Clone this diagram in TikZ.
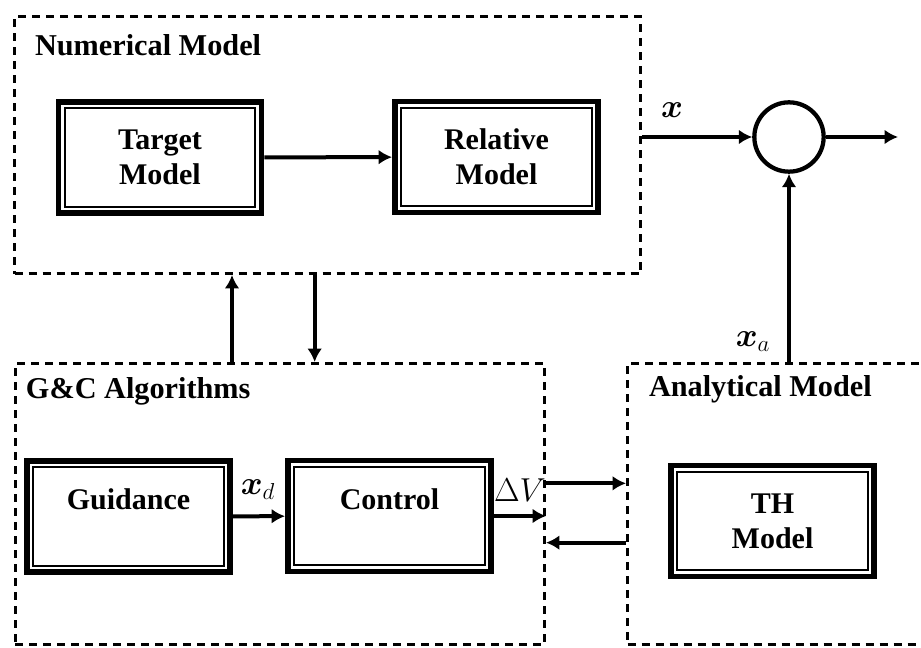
\documentclass[tikz,border=0pt]{standalone}
\usepackage{amsmath,amssymb}
\usepackage{fontspec}
\setmainfont{Liberation Serif}
\usetikzlibrary{arrows.meta, positioning, calc}

\begin{document}
\begin{tikzpicture}[x=0.75pt, y=-0.75pt, line width=3pt,
  blk/.style={rectangle, draw, line width=4.2pt, minimum width=152.5pt, minimum height=83.5pt, align=center, font=\bfseries\fontsize{22.5}{26}\selectfont,
    path picture={\draw[line width=1.3pt] ([shift={(4.8pt,4.8pt)}]path picture bounding box.south west) rectangle ([shift={(-4.8pt,-4.8pt)}]path picture bounding box.north east);}},
  grp/.style={rectangle, draw, line width=2.2pt, dash pattern=on 6pt off 4.5pt},
  ttl/.style={anchor=west, inner sep=0pt, font=\bfseries\fontsize{22.7}{26}\selectfont},
  lbl/.style={inner sep=0pt, font=\fontsize{23}{26}\selectfont},
  sum/.style={circle, draw, line width=3.2pt, minimum size=52pt},
  >={Latex[length=10pt,width=11pt]}]
\useasboundingbox (0,0) rectangle (921,648);

% dashed groups
\node[grp, minimum width=469.5pt, minimum height=192.8pt] (num) at (327.5,145) {};
\node[grp, minimum width=396.8pt, minimum height=210.8pt] (gc)  at (280,504) {};
\node[grp, minimum width=229.5pt, minimum height=210.8pt] (am)  at (780.5,504) {};
\node[ttl] (t1) at (33,45)  {Numerical Model};
\node[ttl] (t2) at (24,391) {G\&C Algorithms};
\node[ttl] (t3) at (647,389) {Analytical Model};

% blocks
\node[blk] (tgt) at (160,157.5) {Target\\Model};
\node[blk] (rel) at (496.5,157) {Relative\\Model};
\node[blk] (gd)  at (128.5,516.5) {Guidance\\~};
\node[blk] (ctl) at (389.5,516) {Control\\~};
\node[blk] (th)  at (772.5,521) {TH\\Model};
\node[sum] (s) at (789,137) {};
\coordinate (out) at (898,137);

% signals
\node[lbl] (lx)  at (672,110) {$\boldsymbol{x}$};
\node[lbl] (lxa) at (753,342) {$\boldsymbol{x}_a$};
\node[lbl] (lxd) at (258,490) {$\boldsymbol{x}_d$};
\node[lbl] (ldv) at (520,490) {$\Delta V$};

\draw[->] (tgt) -- (rel);
\draw[->] (s.west -| num.east) -- (s.west);
\draw[->] (s.east) -- (out);
\draw[->] (s.south |- am.north) -- (s.south);
\draw[->] (gd) -- (ctl);
\draw[->] (ctl.east) -- (ctl.east -| gc.east);
\draw[->] ([xshift=-36pt]gc.north) -- ([xshift=-36pt]gc.north |- num.south);
\draw[->] ([xshift=26pt]gc.north |- num.south) -- ([xshift=26pt]gc.north);
\draw[->] ([yshift=15.5pt]gc.east) -- ([yshift=15.5pt]gc.east -| am.west);
\draw[->] ([yshift=-29pt]gc.east -| am.west) -- ([yshift=-29pt]gc.east);
\end{tikzpicture}
\end{document}
